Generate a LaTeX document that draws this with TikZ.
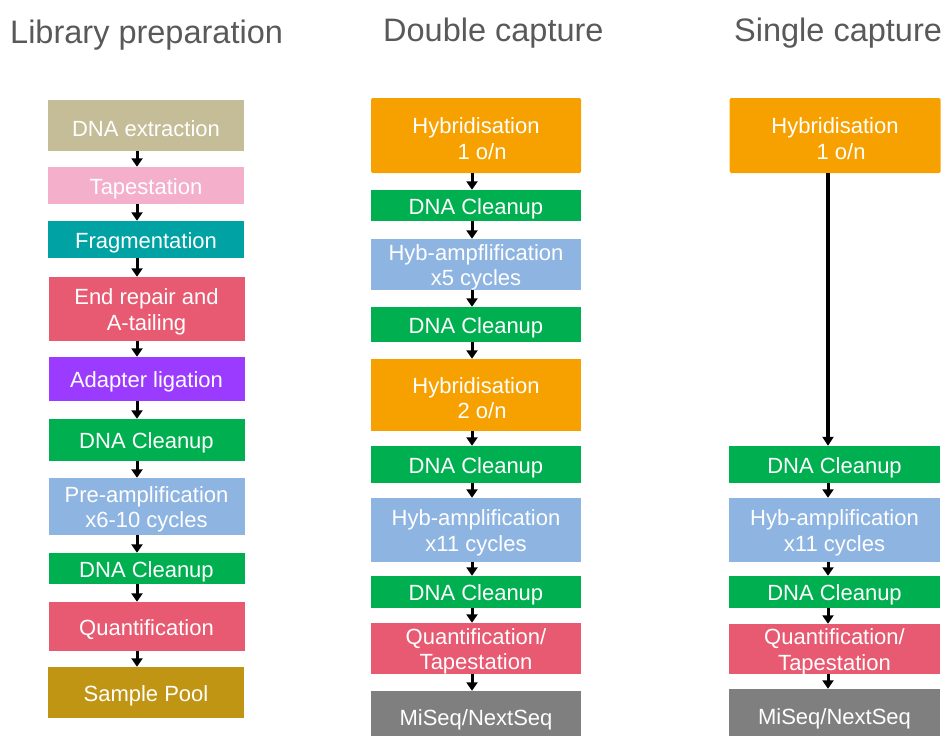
\documentclass[tikz,border=0pt]{standalone}
\usepackage{fontspec}
\setmainfont{Liberation Sans}
\usetikzlibrary{arrows.meta}
\definecolor{cTan}{HTML}{C4BD97}
\definecolor{cPink}{HTML}{F4B0CB}
\definecolor{cTeal}{HTML}{00A2A4}
\definecolor{cRed}{HTML}{E75A71}
\definecolor{cPurple}{HTML}{9B3BFF}
\definecolor{cGreen}{HTML}{00B050}
\definecolor{cBlue}{HTML}{8EB4E2}
\definecolor{cGold}{HTML}{C09513}
\definecolor{cOrange}{HTML}{F7A100}
\definecolor{cGray}{HTML}{7F7F7F}
\definecolor{cTitle}{HTML}{595959}
\tikzset{
  box/.style={rectangle, inner sep=0pt},
  lbl/.style={inner sep=0pt, align=center, text=white, yshift=-3pt,
    font=\fontsize{22}{25.5}\selectfont},
  col1/.style={box, minimum width=196pt},
  col2/.style={box, minimum width=210pt},
  col3/.style={box, minimum width=211pt},
  ttl/.style={anchor=base west, inner sep=0pt, text=cTitle, font=\fontsize{32.5}{38}\selectfont},
  arr/.style={draw=black, line width=3pt, -{Triangle[length=8.5pt,width=11pt]}},
  arrlong/.style={draw=black, line width=3.5pt, -{Triangle[length=9pt,width=11pt]}}
}
\begin{document}
\begin{tikzpicture}[x=1pt,y=-1pt]
\useasboundingbox (0,0) rectangle (943,736);
\clip (0,0) rectangle (943,736);
% titles
\node[ttl] (t1) at (10,43) {Library preparation};
\node[ttl] (t2) at (383,41) {Double capture};
\node[ttl] (t3) at (734,41) {Single capture};
% arrow axes
\coordinate (ax1) at (137,0);
\coordinate (ax2) at (472,0);
\coordinate (ax3) at (828,0);
% column 1
\node[col1, fill=cTan, minimum height=51pt, label={[lbl]center:DNA extraction}] (e1) at (146,125.5) {};
\node[col1, fill=cPink, minimum height=37pt, label={[lbl]center:Tapestation}] (e2) at (146,185.5) {};
\node[col1, fill=cTeal, minimum height=37pt, label={[lbl]center:Fragmentation}] (e3) at (146,239.5) {};
\node[col1, fill=cRed, minimum height=64pt, label={[lbl]center:{End repair and\\A-tailing}}] (e4) at (146.5,309) {};
\node[col1, fill=cPurple, minimum height=44pt, label={[lbl]center:Adapter ligation}] (e5) at (146.5,379) {};
\node[col1, fill=cGreen, minimum height=42pt, label={[lbl]center:DNA Cleanup}] (e6) at (146.5,440) {};
\node[col1, fill=cBlue, minimum height=57pt, label={[lbl]center:{Pre-amplification\\x6-10 cycles}}] (e7) at (146.5,506.5) {};
\node[col1, fill=cGreen, minimum height=31pt, label={[lbl]center:DNA Cleanup}] (e8) at (146.5,568.5) {};
\node[col1, fill=cRed, minimum height=49pt, label={[lbl]center:Quantification}] (e9) at (146.5,626.5) {};
\node[col1, fill=cGold, minimum height=51pt, label={[lbl]center:Sample Pool}] (e10) at (146,692.5) {};
\foreach \a/\b in {e1/e2,e2/e3,e3/e4,e4/e5,e5/e6,e6/e7,e7/e8,e8/e9,e9/e10}
  \draw[arr] (\a.south -| ax1) -- (\b.north -| ax1);
% column 2
\node[col2, fill=cOrange, minimum height=75pt, rounded corners=1.5pt, label={[lbl]center:{Hybridisation\\\ \ 1 o/n}}] (d1) at (476,135.5) {};
\node[col2, fill=cGreen, minimum height=31pt, label={[lbl]center:DNA Cleanup}] (d2) at (476,205.5) {};
\node[col2, fill=cBlue, minimum height=51pt, label={[lbl]center:{Hyb-ampflification\\x5 cycles}}] (d3) at (476,264.5) {};
\node[col2, fill=cGreen, minimum height=35pt, label={[lbl]center:DNA Cleanup}] (d4) at (476,324.5) {};
\node[col2, fill=cOrange, minimum height=72pt, label={[lbl]center:{Hybridisation\\\ \ 2 o/n}}] (d5) at (476,395) {};
\node[col2, fill=cGreen, minimum height=37pt, label={[lbl]center:DNA Cleanup}] (d6) at (476,464.5) {};
\node[col2, fill=cBlue, minimum height=64pt, label={[lbl]center:{Hyb-amplification\\x11 cycles}}] (d7) at (476,530) {};
\node[col2, fill=cGreen, minimum height=32pt, label={[lbl]center:DNA Cleanup}] (d8) at (476,592) {};
\node[col2, fill=cRed, minimum height=51pt, label={[lbl]center:{Quantification/\\Tapestation}}] (d9) at (476,648.5) {};
\node[col2, fill=cGray, minimum height=52pt, label={[lbl]center:MiSeq/NextSeq}] (d10) at (476,717) {};
\foreach \a/\b in {d1/d2,d2/d3,d3/d4,d4/d5,d5/d6,d6/d7,d7/d8,d8/d9,d9/d10}
  \draw[arr] (\a.south -| ax2) -- (\b.north -| ax2);
% column 3
\node[col3, fill=cOrange, minimum height=75pt, rounded corners=1.5pt, label={[lbl]center:{Hybridisation\\\ \ 1 o/n}}] (s1) at (835,135.5) {};
\node[col3, fill=cGreen, minimum height=37pt, label={[lbl]center:DNA Cleanup}] (s2) at (834.5,464.5) {};
\node[col3, fill=cBlue, minimum height=64pt, label={[lbl]center:{Hyb-amplification\\x11 cycles}}] (s3) at (834.5,530) {};
\node[col3, fill=cGreen, minimum height=32pt, label={[lbl]center:DNA Cleanup}] (s4) at (834.5,592) {};
\node[col3, fill=cRed, minimum height=50pt, label={[lbl]center:{Quantification/\\Tapestation}}] (s5) at (834.5,649) {};
\node[col3, fill=cGray, minimum height=54pt, label={[lbl]center:MiSeq/NextSeq}] (s6) at (834.5,716) {};
\draw[arrlong] (s1.south -| ax3) -- (s2.north -| ax3);
\foreach \a/\b in {s2/s3,s3/s4,s4/s5,s5/s6}
  \draw[arr] (\a.south -| ax3) -- (\b.north -| ax3);
\end{tikzpicture}
\end{document}
